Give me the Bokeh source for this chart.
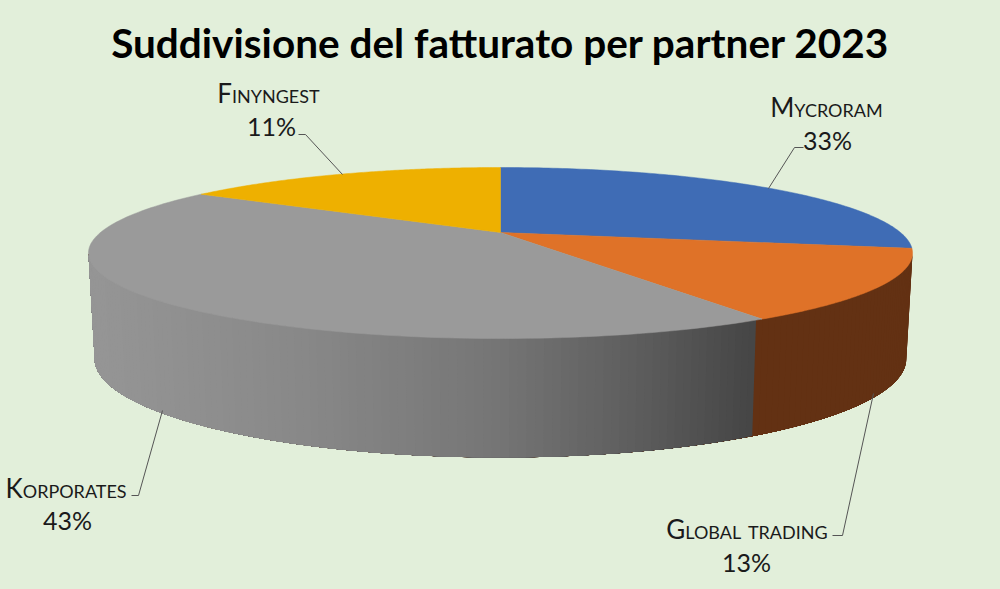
import numpy as np
from bokeh.core.properties import value
from bokeh.embed import file_html
from bokeh.layouts import column
from bokeh.models import Range1d
from bokeh.plotting import figure
from bokeh.resources import INLINE

TITLE = "Suddivisione del fatturato per partner 2023"
partners = ["Mycroram", "Global trading", "Korporates", "Finyngest"]
printed_percent = [33, 13, 43, 11]
# share of the circle each slice visibly occupies in the picture
drawn_share = [28.0, 13.3, 42.7, 16.0]
top_colors = ["#3f6cb5", "#df7228", "#9a9a9a", "#eeb000"]

BG = "#e2efda"
INK = "#1a1a1a"
FONT = value("Lato")
W, H, TITLE_H = 1000, 589, 70
K = 0.24


def project(t, x_scale, y_scale, y0):
    u, v = np.sin(t), np.cos(t)
    w = 1 + K * v
    return 500 + x_scale * u / w, y0 - y_scale * v / w


def top(t):
    return project(t, 400, 80.6, 232)


def base(t):
    return project(t, 394, 93, 334.5)


def make_fig(y_top, y_bottom, height):
    f = figure(width=W, height=height, output_backend="svg", toolbar_location=None,
               x_range=Range1d(0, W), y_range=Range1d(y_bottom, y_top), min_border=0)
    f.axis.visible = False
    f.grid.visible = False
    f.outline_line_color = None
    f.background_fill_color = BG
    f.border_fill_color = BG
    return f


# Title in its own figure so that small caps apply only to the chart labels
head = make_fig(0, TITLE_H, TITLE_H)
head.text([500], [42], text=[TITLE], text_font=FONT, text_font_style="bold",
          text_font_size="40.5px", text_color="#000000", text_align="center",
          text_baseline="middle")

p = make_fig(TITLE_H, H, H - TITLE_H)
p.styles = {"font-variant": "small-caps"}

edges = np.radians(np.concatenate([[0], np.cumsum(drawn_share)]) * 3.6)
t_right = np.arccos(-K)
t_left = 2 * np.pi - t_right

# Side wall: each band runs from its start to the left silhouette and is
# overpainted by the next one, which leaves no seams between the bands
grey_x = [90, 300, 500, 650, 755]
grey_v = [150, 137, 118, 92, 70]
ts = np.linspace(t_right, t_left, 161)
xs, ys, cols = [], [], []
for a in ts[:-1]:
    arc = np.linspace(a, t_left, 60)
    xt, yt = top(arc)
    xb, yb = base(arc)
    xs.append([*xt, *xb[::-1]])
    ys.append([*yt, *yb[::-1]])
    if a < edges[2]:
        cols.append("#633113")
    else:
        g = int(np.interp(xt[0], grey_x, grey_v))
        cols.append(f"#{g:02x}{g:02x}{g:02x}")
p.patches(xs, ys, fill_color=cols, line_color=None)

# Top face
fx, fy = [], []
for a, b in zip(edges[:-1], edges[1:]):
    t = np.linspace(a, b, 120)
    x, y = top(t)
    fx.append([500, *x])
    fy.append([232, *y])
p.patches(fx, fy, fill_color=top_colors, line_color=top_colors, line_width=0.5)

# Leader lines
p.multi_line([[768, 794, 803], [873, 842, 832], [162, 138, 131], [342, 305, 298]],
             [[188, 147, 147], [393, 535, 535], [410, 495, 495], [174, 134, 134]],
             line_color="#555555", line_width=1)

# Labels
name_x = [828, 746, 68, 272]
name_y = [106, 528, 487, 92]
pct_x = [827, 746, 67, 271]
pct_y = [139, 561, 519, 125]
p.text(name_x, name_y, text=partners, text_font=FONT, text_font_size="26px",
       text_color=INK, text_align="center", text_baseline="middle")
p.text(pct_x, pct_y, text=[f"{v}%" for v in printed_percent], text_font=FONT,
       text_font_size="25px", text_color=INK, text_align="center", text_baseline="middle")

page = column(head, p, spacing=0)
page.styles = {"background-color": BG}
open("out.html", "w").write(file_html(page, INLINE))
